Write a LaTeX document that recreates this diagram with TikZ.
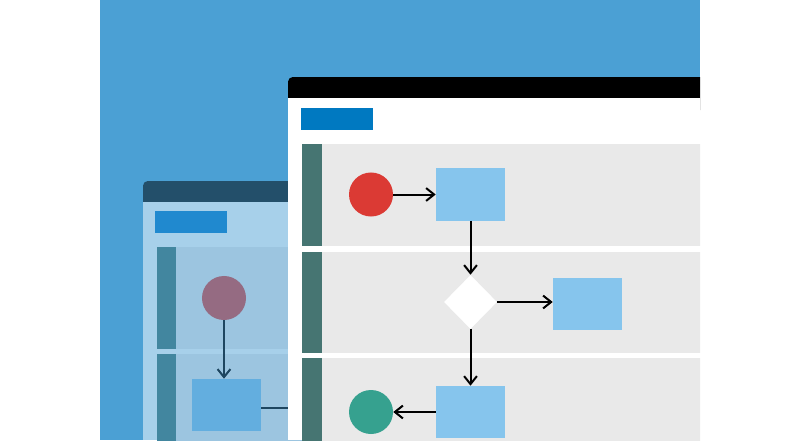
\documentclass[tikz,border=0pt]{standalone}
\usetikzlibrary{arrows.meta,positioning,shapes.geometric}
\definecolor{bgblue}{HTML}{4BA0D4}
\definecolor{backhead}{HTML}{234F6A}
\definecolor{backbody}{HTML}{A7D0EA}
\definecolor{backtab}{HTML}{2089CF}
\definecolor{backlane}{HTML}{9CC5E0}
\definecolor{backside}{HTML}{42869F}
\definecolor{backpink}{HTML}{956B82}
\definecolor{backbox}{HTML}{63AEDF}
\definecolor{backarrow}{HTML}{1E4660}
\definecolor{fronttab}{HTML}{0079C1}
\definecolor{lanegray}{HTML}{E9E9E9}
\definecolor{laneside}{HTML}{467572}
\definecolor{startred}{HTML}{DB3A34}
\definecolor{endgreen}{HTML}{36A18F}
\definecolor{boxblue}{HTML}{86C5ED}

\begin{document}
\begin{tikzpicture}[x=0.025cm, y=-0.025cm,
  task/.style={fill=boxblue, minimum width=1.725cm, minimum height=1.3cm, inner sep=0pt},
  event/.style={circle, minimum size=1.1cm, inner sep=0pt},
  decision/.style={diamond, fill=white, minimum width=1.325cm, minimum height=1.35cm, inner sep=0pt},
  flow/.style={-{Straight Barb[length=2mm,width=3.2mm]}, line width=0.5mm}]
% Page
\useasboundingbox (0,0) rectangle (800,440);
\fill[white] (0,0) rectangle (800,440);
\begin{scope}
\clip (100,0) rectangle (700,440);
\fill[bgblue] (100,0) rectangle (700,440);

% Back window
\fill[backhead, rounded corners=1.2mm] (143,220) -- (143,181) -- (320,181) -- (320,220) -- cycle;
\fill[backbody] (143,202) rectangle (320,440);
\fill[backtab] (155,211) rectangle (227,233);
\foreach \t/\b in {247/349, 354/445} {
  \fill[backlane] (157,\t) rectangle (320,\b);
  \fill[backside] (157,\t) rectangle (176,\b);
}
\node[event, fill=backpink] (bstart) at (224,298) {};
\node[task, fill=backbox] (btask) at (226.5,405) {};
\coordinate (bout) at (300,408);
\draw[flow, backarrow] (bstart) -- (bstart |- btask.north);
\draw[line width=0.5mm, backarrow] (btask.east |- bout) -- (bout);

% Front window
\fill[black, rounded corners=1.2mm] (288,110) -- (288,77) -- (720,77) -- (720,110) -- cycle;
\fill[white] (288,98) rectangle (720,440);
\fill[fronttab] (301,108) rectangle (373,130);
\foreach \t/\b in {144/246, 252/353, 358/445} {
  \fill[lanegray] (302,\t) rectangle (720,\b);
  \fill[laneside] (302,\t) rectangle (322,\b);
}

% Flow
\node[event, fill=startred] (start) at (371,194.5) {};
\node[task] (task1) at (470.5,194.5) {};
\node[decision] (decide) at (470.5,302) {};
\node[task] (task2) at (587.5,304) {};
\node[task] (task3) at (470.5,412) {};
\node[event, fill=endgreen] (end) at (371,412) {};

\draw[flow] (start) -- (task1);
\draw[flow] (task1) -- (decide);
\draw[flow] (decide.east) -- (decide.east -| task2.west);
\draw[flow] (decide) -- (task3);
\draw[flow] (task3) -- (end);
\end{scope}
\end{tikzpicture}
\end{document}
